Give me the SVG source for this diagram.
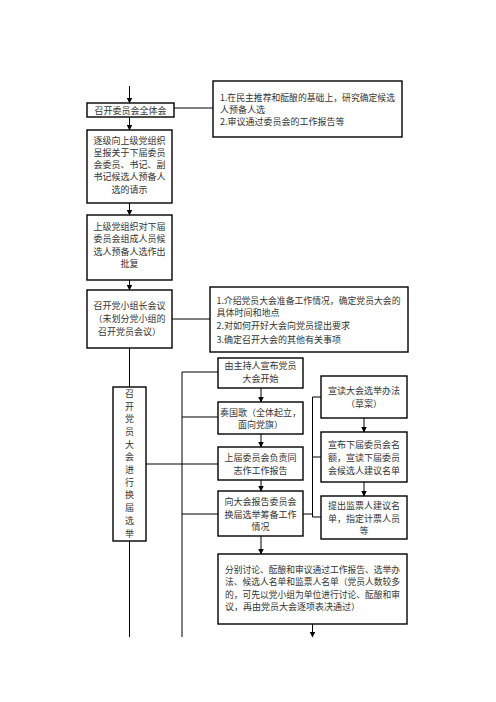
<svg xmlns="http://www.w3.org/2000/svg" width="496" height="702" viewBox="0 0 496 702">
<style>
.box{fill:#fff;stroke:#000;stroke-width:1.4}
.ln{fill:none;stroke:#000;stroke-width:1}
text{font-family:"Noto Sans CJK SC","Noto Sans",sans-serif;font-size:9px;fill:#333;dominant-baseline:central}
.c{text-anchor:middle}
</style>
<defs>
<marker id="ah" markerWidth="6" markerHeight="6" refX="5.5" refY="3" orient="auto" markerUnits="userSpaceOnUse">
<path d="M0,0 L6,3 L0,6 Z" fill="#000"/>
</marker>
</defs>
<rect width="496" height="702" fill="#fff"/>
<g id="connectors">
<line class="ln" x1="129.5" y1="86" x2="129.5" y2="103" marker-end="url(#ah)"/>
<line class="ln" x1="129.5" y1="117" x2="129.5" y2="130" marker-end="url(#ah)"/>
<line class="ln" x1="129.5" y1="203" x2="129.5" y2="215" marker-end="url(#ah)"/>
<line class="ln" x1="129.5" y1="280" x2="129.5" y2="290" marker-end="url(#ah)"/>
<line class="ln" x1="129.5" y1="348" x2="129.5" y2="387"/>
<line class="ln" x1="129.5" y1="541" x2="129.5" y2="637"/>
<line class="ln" x1="174" y1="108" x2="213" y2="108"/>
<line class="ln" x1="172" y1="319" x2="210" y2="319"/>
<line class="ln" x1="146" y1="464" x2="182" y2="464"/>
<line class="ln" x1="182" y1="372" x2="182" y2="637"/>
<line class="ln" x1="182" y1="372" x2="218" y2="372"/>
<line class="ln" x1="182" y1="417" x2="218" y2="417"/>
<line class="ln" x1="182" y1="464" x2="218" y2="464"/>
<line class="ln" x1="182" y1="514" x2="218" y2="514"/>
<line class="ln" x1="261" y1="388" x2="261" y2="402" marker-end="url(#ah)"/>
<line class="ln" x1="261" y1="434" x2="261" y2="447" marker-end="url(#ah)"/>
<line class="ln" x1="261" y1="480" x2="261" y2="491" marker-end="url(#ah)"/>
<line class="ln" x1="261" y1="536" x2="261" y2="554" marker-end="url(#ah)"/>
<line class="ln" x1="312.5" y1="624" x2="312.5" y2="637" marker-end="url(#ah)"/>
<line class="ln" x1="303" y1="514" x2="312.5" y2="514"/>
<line class="ln" x1="312.5" y1="397" x2="312.5" y2="517"/>
<line class="ln" x1="312.5" y1="397" x2="321" y2="397"/>
<line class="ln" x1="312.5" y1="457" x2="321" y2="457"/>
<line class="ln" x1="312.5" y1="517" x2="321" y2="517"/>
<line class="ln" x1="364" y1="418" x2="364" y2="432" marker-end="url(#ah)"/>
<line class="ln" x1="364" y1="482" x2="364" y2="496" marker-end="url(#ah)"/>
</g>
<g id="n1">
<rect class="box" x="87" y="103" width="87" height="14"/>
<text class="c" x="130.5" y="110">召开委员会全体会</text>
</g>
<g id="n1note">
<rect class="box" x="213" y="81" width="189" height="56"/>
<text x="220" y="97.3" textLength="175" lengthAdjust="spacingAndGlyphs">1.在民主推荐和酝酿的基础上，研究确定候选</text>
<text x="220" y="109">人预备人选</text>
<text x="220" y="121">2.审议通过委员会的工作报告等</text>
</g>
<g id="n2">
<rect class="box" x="87" y="130" width="85" height="73"/>
<text class="c" x="129.5" y="140">逐级向上级党组织</text>
<text class="c" x="129.5" y="152.3">呈报关于下届委员</text>
<text class="c" x="129.5" y="164.5">会委员、书记、副</text>
<text class="c" x="129.5" y="176.7">书记候选人预备人</text>
<text class="c" x="129.5" y="189">选的请示</text>
</g>
<g id="n3">
<rect class="box" x="87" y="215" width="85" height="65"/>
<text class="c" x="129.5" y="226.7">上级党组织对下届</text>
<text class="c" x="129.5" y="238.8">委员会组成人员候</text>
<text class="c" x="129.5" y="251">选人预备人选作出</text>
<text class="c" x="129.5" y="263.3">批复</text>
</g>
<g id="n4">
<rect class="box" x="87" y="290" width="85" height="58"/>
<text class="c" x="129.5" y="305">召开党小组长会议</text>
<text class="c" x="129.5" y="318">（未划分党小组的</text>
<text class="c" x="129.5" y="331">召开党员会议）</text>
</g>
<g id="n4note">
<rect class="box" x="210" y="287" width="198" height="65"/>
<text x="216.5" y="300" textLength="184" lengthAdjust="spacingAndGlyphs">1.介绍党员大会准备工作情况，确定党员大会的</text>
<text x="216.5" y="312.8">具体时间和地点</text>
<text x="216.5" y="325.6">2.对如何开好大会向党员提出要求</text>
<text x="216.5" y="339">3.确定召开大会的其他有关事项</text>
</g>
<g id="n5">
<rect class="box" x="113" y="387" width="33" height="154"/>
<text class="c" x="129.5" y="393.3">召</text>
<text class="c" x="129.5" y="406">开</text>
<text class="c" x="129.5" y="418.7">党</text>
<text class="c" x="129.5" y="431.4">员</text>
<text class="c" x="129.5" y="444.1">大</text>
<text class="c" x="129.5" y="456.8">会</text>
<text class="c" x="129.5" y="469.5">进</text>
<text class="c" x="129.5" y="482.2">行</text>
<text class="c" x="129.5" y="494.9">换</text>
<text class="c" x="129.5" y="507.6">届</text>
<text class="c" x="129.5" y="520.3">选</text>
<text class="c" x="129.5" y="533">举</text>
</g>
<g id="m1">
<rect class="box" x="218" y="358" width="85" height="30"/>
<text class="c" x="260.5" y="365.5">由主持人宣布党员</text>
<text class="c" x="260.5" y="378.3">大会开始</text>
</g>
<g id="m2">
<rect class="box" x="218" y="402" width="85" height="32"/>
<text class="c" x="260.5" y="412.3">奏国歌（全体起立，</text>
<text class="c" x="260.5" y="424.5">面向党旗）</text>
</g>
<g id="m3">
<rect class="box" x="218" y="447" width="85" height="33"/>
<text class="c" x="260.5" y="457">上届委员会负责同</text>
<text class="c" x="260.5" y="470">志作工作报告</text>
</g>
<g id="m4">
<rect class="box" x="218" y="491" width="85" height="45"/>
<text class="c" x="260.5" y="501.7">向大会报告委员会</text>
<text class="c" x="260.5" y="514.3">换届选举筹备工作</text>
<text class="c" x="260.5" y="526.7">情况</text>
</g>
<g id="r1">
<rect class="box" x="321" y="376" width="86" height="42"/>
<text class="c" x="364" y="390">宣读大会选举办法</text>
<text class="c" x="364" y="403.3">（草案）</text>
</g>
<g id="r2">
<rect class="box" x="321" y="432" width="86" height="50"/>
<text class="c" x="364" y="444.3">宣布下届委员会名</text>
<text class="c" x="364" y="457">额，宣读下届委员</text>
<text class="c" x="364" y="470">会候选人建议名单</text>
</g>
<g id="r3">
<rect class="box" x="321" y="496" width="86" height="43"/>
<text class="c" x="364" y="505">提出监票人建议名</text>
<text class="c" x="364" y="518">单，指定计票人员</text>
<text class="c" x="364" y="530">等</text>
</g>
<g id="big">
<rect class="box" x="218" y="554" width="189" height="70"/>
<text x="225" y="569.3" textLength="175" lengthAdjust="spacingAndGlyphs">分别讨论、酝酿和审议通过工作报告、选举办</text>
<text x="225" y="581.7" textLength="175" lengthAdjust="spacingAndGlyphs">法、候选人名单和监票人名单（党员人数较多</text>
<text x="225" y="594" textLength="175" lengthAdjust="spacingAndGlyphs">的，可先以党小组为单位进行讨论、酝酿和审</text>
<text x="225" y="606.3">议，再由党员大会逐项表决通过）</text>
</g>
</svg>
